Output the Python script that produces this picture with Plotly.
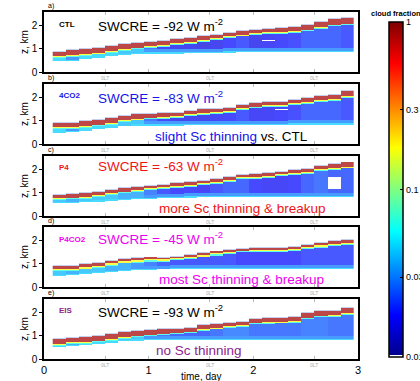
import math
import plotly.graph_objects as go

W, H = 420, 381

# ---------------- data ----------------
# time bins (day), 3-hourly columns
t_edges = [0.083, 0.208, 0.333, 0.458, 0.583, 0.708, 0.833, 0.958, 1.083, 1.208,
           1.333, 1.458, 1.583, 1.708, 1.833, 1.958, 2.083, 2.208, 2.333, 2.458,
           2.583, 2.708, 2.833, 2.958]

# per column: top of high-fraction (Sc) layer [km], its depth [km], cloud base [km],
# cloud fraction of the layer body below
ctl_top = [0.88, 0.93, 0.97, 1.03, 1.11, 1.20, 1.26, 1.30, 1.34, 1.42, 1.47, 1.56,
           1.62, 1.70, 1.78, 1.84, 1.87, 1.90, 1.94, 2.04, 2.16, 2.28, 2.36]
ctl_red = [0.20, 0.20, 0.21, 0.21, 0.22, 0.22, 0.22, 0.19, 0.18, 0.18, 0.18, 0.18,
           0.17, 0.17, 0.17, 0.16, 0.16, 0.17, 0.18, 0.20, 0.22, 0.24, 0.26]
ctl_base = [0.48, 0.47, 0.55, 0.62, 0.68, 0.74, 0.78, 0.80, 0.80, 0.80, 0.82, 0.83,
            0.83, 0.84, 0.85, 0.86, 0.86, 0.86, 0.86, 0.86, 0.87, 0.87, 0.87]
ctl_core = [0.045, 0.03, 0.045, 0.045, 0.045, 0.04, 0.04, 0.024, 0.018, 0.016, 0.016, 0.015,
            0.016, 0.018, 0.02, 0.016, 0.017, 0.018, 0.019, 0.022, 0.022, 0.022, 0.02]
ctl_gap = [16, 1.33, 1.38]

co2_top = [0.90, 0.91, 0.97, 1.04, 1.13, 1.22, 1.29, 1.31, 1.33, 1.36, 1.44, 1.49,
           1.52, 1.58, 1.68, 1.77, 1.82, 1.84, 1.91, 1.97, 2.08, 2.15, 2.30]
co2_red = [0.19, 0.19, 0.20, 0.20, 0.21, 0.21, 0.20, 0.17, 0.16, 0.16, 0.16, 0.16,
           0.15, 0.15, 0.15, 0.15, 0.15, 0.16, 0.16, 0.17, 0.19, 0.21, 0.23]
co2_base = [0.46, 0.50, 0.56, 0.63, 0.68, 0.75, 0.80, 0.80, 0.80, 0.80, 0.81, 0.82,
            0.82, 0.82, 0.83, 0.83, 0.83, 0.83, 0.84, 0.84, 0.84, 0.84, 0.84]
co2_core = [0.045, 0.03, 0.045, 0.045, 0.045, 0.04, 0.04, 0.024, 0.018, 0.016, 0.016, 0.016,
            0.017, 0.018, 0.02, 0.017, 0.017, 0.018, 0.019, 0.022, 0.022, 0.022, 0.02]
co2_gap = [17, 1.46, 1.52]

p4_top = [0.92, 0.95, 0.97, 1.06, 1.13, 1.21, 1.26, 1.31, 1.34, 1.41, 1.45, 1.52,
          1.59, 1.67, 1.78, 1.81, 1.85, 1.92, 1.98, 2.02, 2.17, 2.24, 2.31]
p4_red = [0.15, 0.15, 0.15, 0.15, 0.15, 0.14, 0.14, 0.12, 0.11, 0.11, 0.11, 0.11,
          0.11, 0.11, 0.11, 0.11, 0.11, 0.12, 0.12, 0.13, 0.15, 0.17, 0.18]
p4_base = [0.55, 0.57, 0.59, 0.62, 0.66, 0.69, 0.71, 0.73, 0.76, 0.78, 0.80, 0.81,
           0.82, 0.82, 0.83, 0.83, 0.83, 0.83, 0.83, 0.83, 0.83, 0.83, 0.83]
p4_core = [0.04, 0.035, 0.04, 0.04, 0.04, 0.035, 0.035, 0.026, 0.02, 0.018, 0.018, 0.017,
           0.02, 0.022, 0.022, 0.018, 0.017, 0.017, 0.018, 0.022, 0.024, 0.022, 0.022]
p4_gap = [21, 1.15, 1.70]

p4co2_top = [0.90, 0.91, 0.99, 1.03, 1.13, 1.22, 1.25, 1.28, 1.26, 1.31, 1.39, 1.45,
             1.53, 1.59, 1.66, 1.67, 1.67, 1.68, 1.74, 1.82, 1.90, 1.97, 2.04]
p4co2_red = [0.13, 0.13, 0.13, 0.12, 0.11, 0.10, 0.09, 0.08, 0.07, 0.07, 0.07, 0.07,
             0.07, 0.07, 0.07, 0.07, 0.07, 0.07, 0.08, 0.09, 0.10, 0.11, 0.12]
p4co2_base = [0.48, 0.50, 0.55, 0.60, 0.64, 0.68, 0.71, 0.73, 0.75, 0.76, 0.77, 0.78,
              0.78, 0.78, 0.78, 0.78, 0.78, 0.78, 0.78, 0.78, 0.78, 0.78, 0.78]
p4co2_core = [0.04, 0.035, 0.04, 0.04, 0.035, 0.035, 0.03, 0.026, 0.022, 0.02, 0.02, 0.02,
              0.02, 0.02, 0.018, 0.018, 0.018, 0.018, 0.018, 0.02, 0.02, 0.02, 0.02]

eis_top = [0.86, 0.91, 0.94, 1.00, 1.08, 1.15, 1.22, 1.25, 1.29, 1.32, 1.36, 1.47,
           1.51, 1.58, 1.62, 1.72, 1.75, 1.77, 1.82, 1.97, 2.08, 2.11, 2.20]
eis_red = [0.20, 0.20, 0.21, 0.21, 0.22, 0.22, 0.22, 0.20, 0.19, 0.18, 0.18, 0.18,
           0.17, 0.17, 0.17, 0.16, 0.16, 0.16, 0.17, 0.19, 0.20, 0.22, 0.23]
eis_base = [0.53, 0.56, 0.60, 0.63, 0.70, 0.76, 0.80, 0.82, 0.82, 0.82, 0.82, 0.82,
            0.82, 0.82, 0.82, 0.82, 0.82, 0.82, 0.82, 0.82, 0.82, 0.82, 0.82]
eis_core = [0.045, 0.035, 0.045, 0.045, 0.045, 0.04, 0.04, 0.03, 0.024, 0.022, 0.022, 0.022,
            0.024, 0.027, 0.027, 0.024, 0.024, 0.024, 0.024, 0.026, 0.026, 0.024, 0.024]

# layer fractions around the Sc layer
F_RED, F_YEL, F_CYAN, F_LOW, F_BASE = 0.85, 0.18, 0.065, 0.03, 0.045

cases = ["CTL", "4CO2", "P4", "P4CO2", "EIS"]
swcre = [-92, -83, -63, -45, -93]
case_colors = ["black", "rgb(20,20,235)", "rgb(240,20,20)", "rgb(240,0,240)", "rgb(140,30,140)"]
swcre_colors = ["black", "rgb(20,20,235)", "rgb(240,20,20)", "rgb(240,0,240)", "black"]
notes = [None,
         "<span style='color:rgb(20,20,235)'>slight Sc thinning</span> vs. CTL",
         "more Sc thinning &amp; breakup",
         "most Sc thinning &amp; breakup",
         "no Sc thinning"]
panel_letters = ["a)", "b)", "c)", "d)", "e)"]
lt_ticks = [0.583, 1.583, 2.583]
cb_vals = [1, 0.3, 0.1, 0.03, 0.01]
cb_text = ["1", "0.3", "0.1", "0.03", "0.01"]

panels = [
    (ctl_top, ctl_red, ctl_base, ctl_core, 0.03, ctl_gap),
    (co2_top, co2_red, co2_base, co2_core, 0.03, co2_gap),
    (p4_top, p4_red, p4_base, p4_core, 0.035, p4_gap),
    (p4co2_top, p4co2_red, p4co2_base, p4co2_core, 0.05, None),
    (eis_top, eis_red, eis_base, eis_core, 0.03, None),
]

# ---------------- figure ----------------
DZ = 0.02
y_edges = [round(i * DZ, 3) for i in range(131)]
y_c = [(y_edges[i] + y_edges[i + 1]) / 2 for i in range(130)]
FRINGE_V = -2.3


def build(top, red, base, core, yel, gap):
    z = []
    for zc in y_c:
        row = []
        for i in range(len(top)):
            T, R, B, C = top[i], red[i], base[i], core[i]
            if zc > T + 0.04:
                v = None
            elif zc > T:
                v = FRINGE_V
            elif zc > T - R:
                v = math.log10(F_RED)
            elif zc > T - R - yel:
                v = math.log10(F_YEL)
            elif zc > T - R - yel - 0.04:
                v = math.log10(F_CYAN)
            elif zc > B + 0.17:
                v = math.log10(C)
            elif zc > B + 0.05:
                v = math.log10(max(C, F_LOW))
            elif zc > B:
                v = math.log10(F_BASE)
            else:
                v = None
            if gap is not None and gap[0] == i and gap[1] < zc < gap[2]:
                v = None
            row.append(v)
        z.append(row)
    return z


hm_cs = [[0, 'rgb(175,190,230)'], [0.12, 'rgb(175,190,230)'], [0.1304, 'rgb(0,0,143)'],
         [0.2391, 'rgb(0,0,255)'], [0.4565, 'rgb(0,255,255)'], [0.6739, 'rgb(255,255,0)'],
         [0.8913, 'rgb(255,0,0)'], [1, 'rgb(128,0,0)']]
jet_cb = [[0, 'white'], [0.007, 'white'], [0.007, 'rgb(0,0,143)'], [0.125, 'rgb(0,0,255)'],
          [0.375, 'rgb(0,255,255)'], [0.625, 'rgb(255,255,0)'], [0.875, 'rgb(255,0,0)'],
          [1, 'rgb(128,0,0)']]

FONT = "Liberation Sans, Arial, sans-serif"
top_px = [12, 84, 156, 227, 299]
bot_px = [72, 144, 216, 287, 359]
X0, X1 = 44, 358


def yp(px):
    return 1 - px / H


def xp(px):
    return px / W


fig = go.Figure()
layout = dict(width=W, height=H, margin=dict(l=0, r=0, t=0, b=0, autoexpand=False),
              paper_bgcolor='white', plot_bgcolor='white',
              font=dict(family=FONT, color='black'), showlegend=False)
annotations = []

for k, (top, red, base, core, yel, gap) in enumerate(panels):
    sfx = '' if k == 0 else str(k + 1)
    fig.add_trace(go.Heatmap(x=t_edges, y=y_edges, z=build(top, red, base, core, yel, gap),
                             colorscale=hm_cs, zmin=-2.3, zmax=0, showscale=False,
                             opacity=0.72, hoverinfo='skip',
                             xaxis='x' + sfx, yaxis='y' + sfx))
    last = (k == 4)
    layout['xaxis' + sfx] = dict(
        domain=[xp(X0), xp(X1)], range=[0, 3], anchor='y' + sfx, automargin=False,
        showgrid=False, zeroline=False, showline=True, linecolor='black', linewidth=1.5,
        mirror='ticks', ticks='inside', ticklen=3, tickcolor='#bbbbbb',
        tickvals=[0, 0.583, 1, 1.583, 2, 2.583, 3] if last else [0.583, 1, 1.583, 2, 2.583],
        ticktext=['0', ' ', '1', ' ', '2', ' ', '3'] if last else None,
        showticklabels=last, tickfont=dict(size=11))
    layout['yaxis' + sfx] = dict(
        domain=[yp(bot_px[k]), yp(top_px[k])], range=[0, 2.6], anchor='x' + sfx,
        automargin=False,
        showgrid=False, zeroline=False, showline=True, linecolor='black', linewidth=1.5,
        mirror=True, ticks='outside', ticklen=3, tickcolor='black',
        tickvals=[0, 1, 2], tickfont=dict(size=10))

    annotations.append(dict(x=xp(24), y=yp((top_px[k] + bot_px[k]) / 2), xref='paper',
                            yref='paper', xanchor='center', yanchor='middle', showarrow=False,
                            textangle=-90, text='z, km', font=dict(size=10)))
    yc = top_px[k] + [12, 11, 11, 12, 11][k]
    annotations.append(dict(x=xp(57), y=yp(yc), xref='paper', yref='paper', xanchor='left',
                            yanchor='middle', text='<b>%s</b>' % cases[k], showarrow=False,
                            font=dict(size=8, color=case_colors[k])))
    ys = top_px[k] + [13, 13, 9, 11, 12][k]
    annotations.append(dict(x=xp(96), y=yp(ys), xref='paper', yref='paper', xanchor='left',
                            yanchor='middle', showarrow=False,
                            text='SWCRE = %d W m<sup>-2</sup>' % swcre[k],
                            font=dict(size=13.5, color=swcre_colors[k])))
    if notes[k]:
        yn = bot_px[k] - [0, 8, 7, 8, 9][k]
        xn = [0, 153, 157, 157, 154][k]
        annotations.append(dict(x=xp(xn), y=yp(yn), xref='paper', yref='paper', xanchor='left',
                                yanchor='middle', showarrow=False, text=notes[k],
                                font=dict(size=13.5, color=case_colors[k] if k != 1 else 'black')))
    annotations.append(dict(x=xp(46), y=yp(top_px[k] - 6), xref='paper', yref='paper',
                            xanchor='left', yanchor='middle', showarrow=False,
                            text=panel_letters[k], font=dict(size=7)))
    for t in lt_ticks:
        annotations.append(dict(x=t, y=yp(bot_px[k] + 6), xref='x' + sfx, yref='paper',
                                xanchor='center', yanchor='middle', showarrow=False,
                                text='0LT', font=dict(size=5, color='#aaaaaa')))

annotations.append(dict(x=xp(201), y=yp(376), xref='paper', yref='paper', showarrow=False,
                        xanchor='center', yanchor='middle', text='time, day',
                        font=dict(size=10)))
annotations.append(dict(x=xp(396), y=yp(14), xref='paper', yref='paper', showarrow=False,
                        xanchor='center', yanchor='middle', text='<b>cloud fraction</b>',
                        font=dict(size=7.5)))

# colorbar (log-scaled cloud fraction)
fig.add_trace(go.Scatter(
    x=[None], y=[None], mode='markers', hoverinfo='skip', showlegend=False,
    marker=dict(color=[-1], cmin=-2, cmax=0, colorscale=jet_cb, showscale=True,
                colorbar=dict(x=xp(389), xanchor='left', xpad=0, ypad=0,
                              y=yp((22 + 357) / 2), yanchor='middle',
                              len=335, lenmode='pixels', thickness=14, thicknessmode='pixels',
                              outlinewidth=1.5, outlinecolor='black',
                              tickvals=[math.log10(v) for v in cb_vals], ticktext=cb_text,
                              ticks='inside', ticklen=3, tickcolor='black',
                              tickfont=dict(size=9)))))

layout['annotations'] = annotations
fig.update_layout(**layout)
fig.write_html("out.html", config={'displayModeBar': False},
               post_script="document.body.style.margin='0';document.body.style.overflow='hidden';")
